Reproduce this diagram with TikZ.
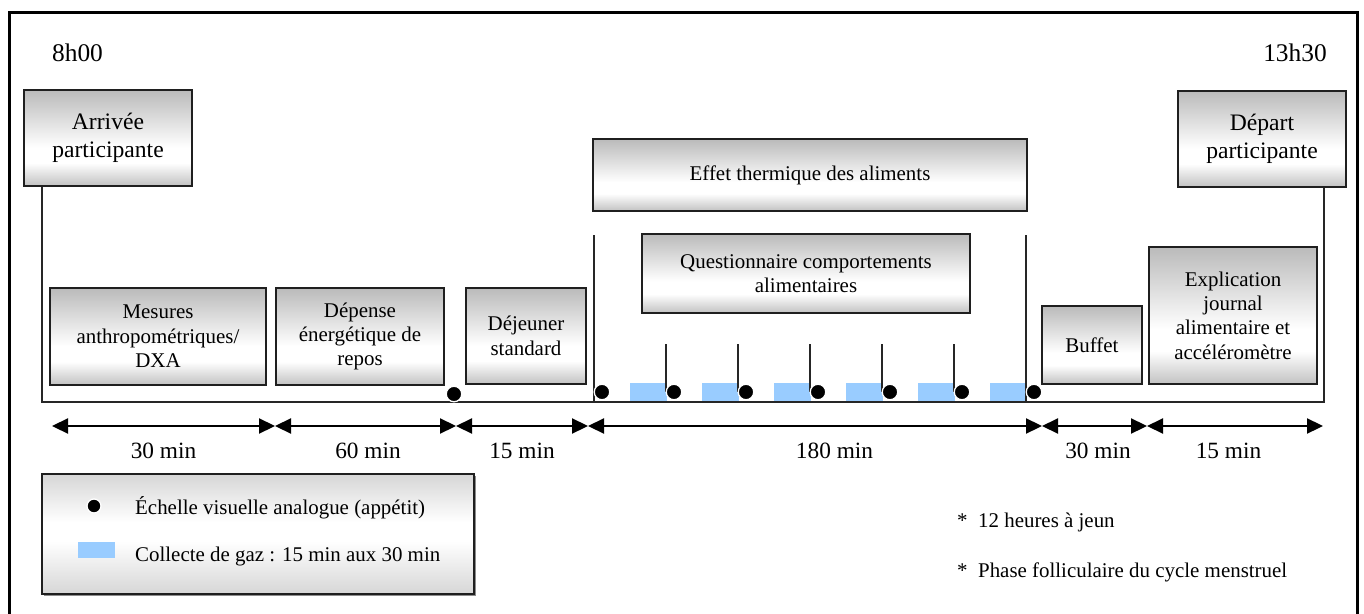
\documentclass[tikz,border=0pt]{standalone}
\usepackage{fontspec}
\setmainfont{Liberation Serif}
\usetikzlibrary{arrows.meta}
\colorlet{gA}{black!24}
\colorlet{gB}{black!27}
\colorlet{gC}{black!16}
\definecolor{gasblue}{RGB}{153,204,255}
\pgfdeclareverticalshading{boxshade}{100bp}{color(0bp)=(gA); color(25bp)=(gA); color(37bp)=(white); color(45bp)=(white); color(75bp)=(gB); color(100bp)=(gB)}
\pgfdeclareverticalshading{legshade}{100bp}{color(0bp)=(gC); color(25bp)=(gC); color(47bp)=(white); color(55bp)=(white); color(75bp)=(gC); color(100bp)=(gC)}
\newcommand\myfT{\fontsize{25.5}{28}\selectfont}
\newcommand\myfA{\fontsize{23.7}{28}\selectfont}
\newcommand\myfB{\fontsize{21}{24.5}\selectfont}
\newcommand\myfD{\fontsize{23.4}{26}\selectfont}
\tikzset{
  box/.style={draw=black!88, line width=1.9bp, shade, shading=boxshade, align=center, inner sep=0pt, font=\myfB},
  thinline/.style={line width=1.3bp, draw=black!85},
  dur/.style={line width=2.2bp, {Triangle[length=16bp,width=15bp]}-{Triangle[length=16bp,width=15bp]}},
  dot/.style={circle, fill=black, draw=white, line width=1.3bp, minimum size=15.5bp, inner sep=0pt},
  gas/.style={fill=gasblue, draw=none},
  lbl/.style={anchor=base, inner sep=0pt},
}
\begin{document}
\begin{tikzpicture}[x=1bp,y=-1bp]
\useasboundingbox (0,0) rectangle (1364,614);
% outer frame
\draw[line width=3bp] (9.5,620) -- (9.5,12.5) -- (1357.5,12.5) -- (1357.5,620);
% times
\node[lbl, font=\myfT] (t0) at (77.5,62) {8h00};
\node[lbl, font=\myfT] (t1) at (1295,62) {13h30};
% top boxes
\node[box, font=\myfA, minimum width=168bp, minimum height=96bp] (arr) at (108,138) {Arrivée\\participante};
\node[box, font=\myfA, minimum width=168bp, minimum height=96bp] (dep) at (1262,139) {Départ\\participante};
\node[box, minimum width=434bp, minimum height=72bp] (eff) at (810,175) {Effet thermique des aliments};
\node[box, minimum width=328bp, minimum height=79bp] (que) at (806,273.5) {Questionnaire comportements\\alimentaires};
% row boxes
\node[box, minimum width=216bp, minimum height=97bp] (mes) at (158,336.5) {Mesures\\anthropométriques/\\DXA};
\node[box, minimum width=168bp, minimum height=97bp] (dpr) at (360,336.5) {Dépense\\énergétique de\\repos};
\node[box, minimum width=120bp, minimum height=96bp] (dej) at (526,336) {Déjeuner\\standard};
\node[box, minimum width=100bp, minimum height=78bp] (buf) at (1092,345) {Buffet};
\node[box, minimum width=168bp, minimum height=137bp] (exp) at (1233,315.5) {Explication\\journal\\alimentaire et\\accéléromètre};
% gas collection bars
\foreach \k in {0,...,5} {
  \fill[gas] ({630+72*\k},383) rectangle ({667+72*\k},402);
}
% U-shaped line
\coordinate (bl) at (42,402);
\coordinate (br) at (1324,402);
\draw[thinline] (arr.south -| bl) -- (bl) -- (br) -- (dep.south -| br);
% phase delimiters
\coordinate (e1) at (594,235);
\coordinate (e2) at (1026,235);
\draw[thinline] (e1) -- (e1 |- bl);
\draw[thinline] (e2) -- (e2 |- bl);
% ticks
\foreach \k in {0,...,4} {
  \coordinate (tk\k) at ({666+72*\k},344);
  \draw[thinline] (tk\k) -- ++(0,48);
}
% dots
\node[dot] (d0) at (454,394) {};
\foreach \k in {0,...,6} {
  \node[dot] (v\k) at ({602+72*\k},392) {};
}
% duration arrows
\coordinate (a0) at (52,426);
\coordinate (a1) at (275,426);
\coordinate (a2) at (456,426);
\coordinate (a3) at (588,426);
\coordinate (a4) at (1042,426);
\coordinate (a5) at (1147,426);
\coordinate (a6) at (1323,426);
\draw[dur] (a0) -- (a1);
\draw[dur] (a1) -- (a2);
\draw[dur] (a2) -- (a3);
\draw[dur] (a3) -- (a4);
\draw[dur] (a4) -- (a5);
\draw[dur] (a5) -- (a6);
\node[lbl, font=\myfD] (m0) at (163.5,458) {30 min};
\node[lbl, font=\myfD] (m1) at (368,458) {60 min};
\node[lbl, font=\myfD] (m2) at (522,458) {15 min};
\node[lbl, font=\myfD] (m3) at (834.5,458) {180 min};
\node[lbl, font=\myfD] (m4) at (1098,458) {30 min};
\node[lbl, font=\myfD] (m5) at (1228.5,458) {15 min};
% legend
\fill[black!45] (44,476) rectangle (476,596);
\node[draw=black!88, line width=1.6bp, shade, shading=legshade, minimum width=432bp, minimum height=120bp, inner sep=0pt] (leg) at (258,534) {};
\node[dot, minimum size=14bp] (ld) at (94,506) {};
\fill[gas] (78,542) rectangle (115,558);
\node[lbl, anchor=base west, font=\myfB] (l1) at (135,514) {Échelle visuelle analogue (appétit)};
\node[lbl, anchor=base west, font=\myfB] (l2) at (135,561) {Collecte de gaz : 15 min aux 30 min};
% notes
\node[lbl, anchor=base west, font=\myfB] (n1) at (957,527) {*~~12 heures à jeun};
\node[lbl, anchor=base west, font=\myfB] (n2) at (957,577) {*~~Phase folliculaire du cycle menstruel};
\end{tikzpicture}
\end{document}
